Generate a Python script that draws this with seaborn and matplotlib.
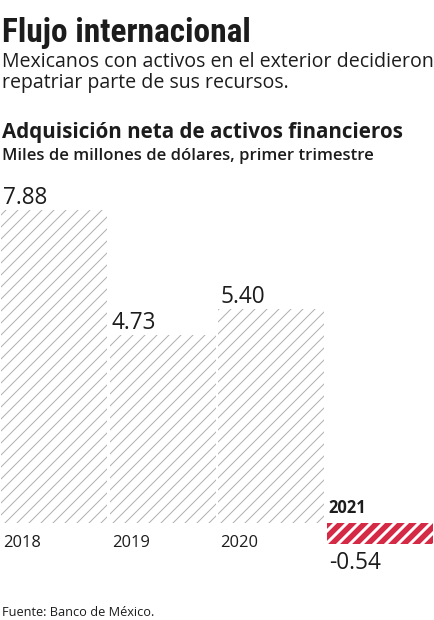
import matplotlib
matplotlib.use("Agg")
import matplotlib.pyplot as plt
import matplotlib.font_manager as fm
import seaborn as sns

# datos: adquisición neta de activos financieros, primer trimestre
years = ["2018", "2019", "2020", "2021"]
values = [7.88, 4.73, 5.40, -0.54]
value_labels = ["7.88", "4.73", "5.40", "-0.54"]

GRAY = "#b0b0b0"
RED = "#d42a45"
INK = "#1c1c1c"

sns.set_style("white")
plt.rcParams["font.family"] = ["Open Sans", "DejaVu Sans"]

# buscar una fuente sans estrecha (no cursiva) para el título
narrow = None
for f in fm.fontManager.ttflist:
    name = f.name.lower()
    st = str(f.stretch).lower()
    if f.style != "normal" or "mono" in name or ("serif" in name and "sans" not in name):
        continue
    if "condensed" in st or "narrow" in name or "condensed" in name:
        if narrow is None or f.weight in ("bold", 700):
            narrow = f

W, H = 434, 620
fig = plt.figure(figsize=(W / 72, H / 72), dpi=72)
fig.patch.set_facecolor("white")
renderer = fig.canvas.get_renderer()


def fy(px):
    return 1 - px / H


def fit_width(txt, target):
    w = txt.get_window_extent(renderer).width
    txt.set_fontsize(txt.get_fontsize() * target / w)


# ---------------- encabezado ----------------
if narrow is not None:
    title = fig.text(2 / W, fy(42), "Flujo internacional",
                     fontproperties=fm.FontProperties(fname=narrow.fname, size=40),
                     color=INK, va="baseline")
else:
    title = fig.text(2 / W, fy(42), "Flujo internacional", family="DejaVu Sans",
                     fontsize=40, weight="bold", color=INK, va="baseline")
fit_width(title, 248)

sub1 = fig.text(2 / W, fy(67), "Mexicanos con activos en el exterior decidieron",
                fontsize=18, color=INK, va="baseline")
fit_width(sub1, 430)
fig.text(2 / W, fy(88), "repatriar parte de sus recursos.",
         fontsize=sub1.get_fontsize(), color=INK, va="baseline")

head = fig.text(2 / W, fy(138), "Adquisición neta de activos financieros",
                fontsize=20, weight="bold", color=INK, va="baseline")
fit_width(head, 402)
unit = fig.text(2 / W, fy(160), "Miles de millones de dólares, primer trimestre",
                fontsize=15, weight="semibold", color=INK, va="baseline")
fit_width(unit, 370)

src = fig.text(2 / W, fy(616), "Fuente: Banco de México.",
               fontsize=13, color=INK, va="baseline")
fit_width(src, 153)

# ---------------- barras ----------------
ax = fig.add_axes([0, 17.6 / H, 1, 416.9 / H])
bw = 0.975
sns.barplot(x=years, y=values, ax=ax, color="white", width=bw, linewidth=0)

for i, p in enumerate(ax.patches):
    p.set_facecolor("white")
    p.set_linewidth(0)
    p.set_hatch("//")
    neg = values[i] < 0
    p.set_edgecolor(RED if neg else GRAY)
    if hasattr(p, "set_hatch_linewidth"):
        p.set_hatch_linewidth(5.5 if neg else 1.0)

ax.set_xlim(-0.5, 3.5)
ax.set_ylim(-2, 8.5)
ax.axis("off")

for i, (v, lab) in enumerate(zip(values, value_labels)):
    left = i - bw / 2
    if v >= 0:
        ax.annotate(lab, xy=(left, v), xytext=(2, 6), textcoords="offset points",
                    ha="left", va="baseline", fontsize=22.5, color=INK)
        ax.annotate(years[i], xy=(left, 0), xytext=(2, -24), textcoords="offset points",
                    ha="left", va="baseline", fontsize=16.5, color=INK)
    else:
        ax.annotate(lab, xy=(left, v), xytext=(2, -7), textcoords="offset points",
                    ha="left", va="top", fontsize=22.5, color=INK)
        ax.annotate(years[i], xy=(left, 0), xytext=(2, 10), textcoords="offset points",
                    ha="left", va="baseline", fontsize=16.5, weight="bold", color=INK)

fig.savefig("out.png", dpi=72, facecolor="white")
